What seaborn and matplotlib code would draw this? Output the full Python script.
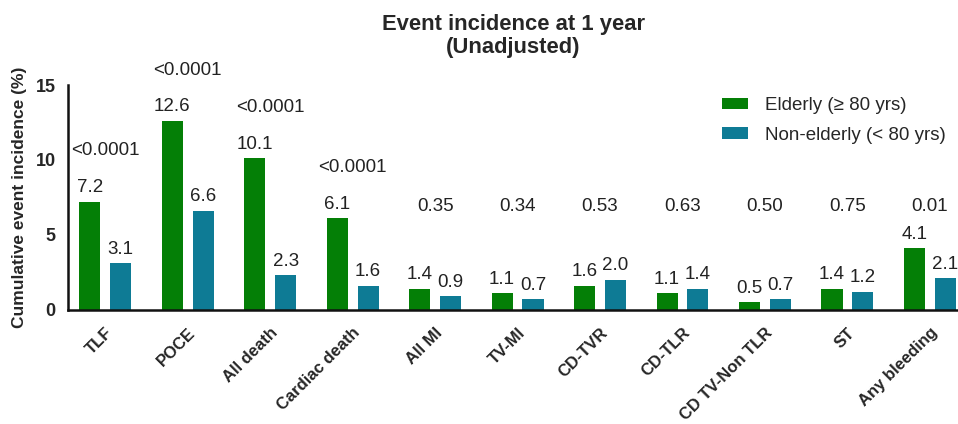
import matplotlib
matplotlib.use("Agg")
import matplotlib.pyplot as plt
import seaborn as sns
import pandas as pd
from matplotlib.patches import Patch

categories = ["TLF", "POCE", "All death", "Cardiac death", "All MI", "TV-MI",
              "CD-TVR", "CD-TLR", "CD TV-Non TLR", "ST", "Any bleeding"]
elderly = [7.2, 12.6, 10.1, 6.1, 1.4, 1.1, 1.6, 1.1, 0.5, 1.4, 4.1]
non_elderly = [3.1, 6.6, 2.3, 1.6, 0.9, 0.7, 2.0, 1.4, 0.7, 1.2, 2.1]
p_values = ["<0.0001", "<0.0001", "<0.0001", "<0.0001", "0.35", "0.34",
            "0.53", "0.63", "0.50", "0.75", "0.01"]
groups = ["Elderly (\u2265 80 yrs)", "Non-elderly (< 80 yrs)"]
colors = ["#047f06", "#0e7b95"]

df = pd.DataFrame({
    "Event": categories * 2,
    "Incidence": elderly + non_elderly,
    "Group": [groups[0]] * len(categories) + [groups[1]] * len(categories),
})

sns.set_style("white")
plt.rcParams["font.family"] = ["Liberation Sans", "DejaVu Sans"]

fig = plt.figure(figsize=(9.58, 4.24), dpi=100)
ax = fig.add_axes([0.071, 0.269, 0.929, 0.5305])

sns.barplot(data=df, x="Event", y="Incidence", hue="Group", order=categories,
            hue_order=groups, palette=colors, width=0.75, gap=0.32,
            saturation=1, edgecolor="none", ax=ax, legend=False)

# value labels above each bar
for container, vals in zip(ax.containers, [elderly, non_elderly]):
    for bar, v in zip(container, vals):
        ax.annotate(f"{v:.1f}", (bar.get_x() + bar.get_width() / 2, v),
                    xytext=(0, 4), textcoords="offset points",
                    ha="center", va="bottom", fontsize=13.5, color="#222222",
                    annotation_clip=False)

# p-values above each pair
for i, p in enumerate(p_values):
    top = max(elderly[i], non_elderly[i])
    y = top + 3.4 if top >= 5 else 6.9
    ax.text(i, y, p, ha="center", va="center", fontsize=13.5, color="#222222",
            clip_on=False)

ax.set_xlim(-0.45, 10.34)
ax.set_ylim(0, 15)
ax.set_yticks([0, 5, 10, 15])
ax.set_xlabel("")
ax.set_ylabel("Cumulative event incidence (%)", fontsize=12.5,
              fontweight="bold", labelpad=6)

sns.despine(ax=ax)
for s in ["left", "bottom"]:
    ax.spines[s].set_linewidth(1.8)
    ax.spines[s].set_color("#111111")

ax.tick_params(axis="both", direction="out", length=6, width=1.6,
               color="#111111")
ax.tick_params(axis="x", pad=5, labelsize=12)
ax.tick_params(axis="y", pad=3, labelsize=13)
for lab in ax.get_yticklabels():
    lab.set_fontweight("bold")
for lab in ax.get_xticklabels():
    lab.set_fontweight("bold")
    lab.set_rotation(45)
    lab.set_ha("right")
    lab.set_rotation_mode("anchor")

handles = [Patch(facecolor=c, edgecolor="none") for c in colors]
ax.legend(handles, groups, loc="upper right", bbox_to_anchor=(1.005, 1.02),
          frameon=False, fontsize=13.5, handlelength=1.4, handleheight=0.55,
          handletextpad=0.9, labelspacing=0.65)

fig.text(0.536, 0.915, "Event incidence at 1 year\n(Unadjusted)",
         ha="center", va="center", fontsize=15.8, fontweight="bold",
         linespacing=1.15)

fig.savefig("out.png", dpi=100)
